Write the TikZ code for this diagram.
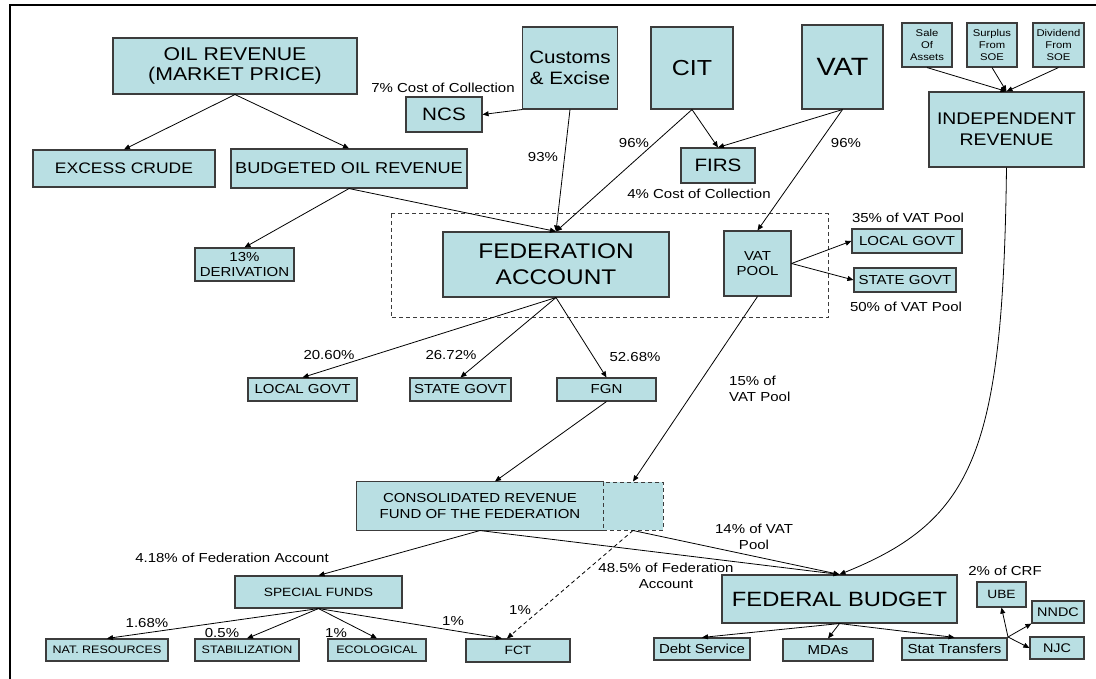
\documentclass[tikz,border=0pt]{standalone}
\usepackage{fontspec}
\setmainfont{Liberation Sans}[FakeStretch=1.15]
\usetikzlibrary{arrows.meta}
\definecolor{boxfill}{RGB}{185,223,227}
\definecolor{boxline}{RGB}{60,60,60}
\newcommand{\fsz}[2]{\fontsize{\fpeval{#1*1.087}}{\fpeval{#2*1.087}}\selectfont}
\begin{document}
\begin{tikzpicture}[x=1pt,y=-1pt,
  bx/.style={draw=boxline, fill=boxfill, line width=1.1pt, inner sep=0pt, align=center},
  arr/.style={-{Triangle[length=6pt,width=5pt]}, line width=0.8pt},
  dsh/.style={dash pattern=on 4pt off 3pt, line width=1pt, draw=boxline},
  lbl/.style={inner sep=0pt, font=\fsz{12}{15}, align=center}]
\useasboundingbox (0,0) rectangle (1096,679);
\fill[white] (0,0) rectangle (1096,679);
\draw[line width=2pt] (9.5,700) -- (9.5,5) -- (1110,5);

% federation zone
\draw[dsh] (391,214) rectangle (828,318);

% boxes
\node[bx, minimum width=244pt, minimum height=56pt, font=\fsz{17}{19}] (oil) at (235,66) {OIL REVENUE\\(MARKET PRICE)};
\node[bx, minimum width=182pt, minimum height=37pt, font=\fsz{14}{16}] (excess) at (124,168.5) {EXCESS CRUDE};
\node[bx, minimum width=236pt, minimum height=39pt, font=\fsz{14.5}{16}] (budget) at (349,168.5) {BUDGETED OIL REVENUE};
\node[bx, minimum width=76pt, minimum height=35pt, font=\fsz{16.5}{18}] (ncs) at (444,114.5) {NCS};
\node[bx, minimum width=95pt, minimum height=82pt, font=\fsz{16.5}{19.5}] (customs) at (570,68) {Customs\\\& Excise};
\node[bx, minimum width=82pt, minimum height=82pt, font=\fsz{20}{22}] (cit) at (692,68) {CIT};
\node[bx, minimum width=81pt, minimum height=84pt, font=\fsz{23}{25}] (vat) at (842.5,67) {VAT};
\node[bx, minimum width=50pt, minimum height=44pt, font=\fsz{9}{11}] (sale) at (927,45) {Sale\\Of\\Assets};
\node[bx, minimum width=50pt, minimum height=44pt, font=\fsz{9}{11}] (surplus) at (992,45) {Surplus\\From\\SOE};
\node[bx, minimum width=51pt, minimum height=44pt, font=\fsz{9}{11}] (dividend) at (1058.5,45) {Dividend\\From\\SOE};
\node[bx, minimum width=155pt, minimum height=75pt, font=\fsz{15.5}{19.5}] (indep) at (1006.5,129.5) {INDEPENDENT\\REVENUE};
\node[bx, minimum width=74pt, minimum height=35pt, font=\fsz{16.5}{18}] (firs) at (718,165.5) {FIRS};
\node[bx, minimum width=226pt, minimum height=65pt, font=\fsz{19.5}{24}] (fa) at (556,264.5) {FEDERATION\\ACCOUNT};
\node[bx, minimum width=67pt, minimum height=65pt, font=\fsz{12}{14}] (vatpool) at (757.5,263.5) {VAT\\POOL};
\node[bx, minimum width=110pt, minimum height=24pt, font=\fsz{12}{14}] (lgvat) at (907,241) {LOCAL GOVT};
\node[bx, minimum width=102pt, minimum height=24pt, font=\fsz{12}{14}] (sgvat) at (905,280) {STATE GOVT};
\node[bx, minimum width=99pt, minimum height=33pt, font=\fsz{12}{13}] (deriv) at (244.5,264.5) {13\%\\DERIVATION};
\node[bx, minimum width=109pt, minimum height=23pt, font=\fsz{12}{14}] (lg) at (302.5,389.5) {LOCAL GOVT};
\node[bx, minimum width=101pt, minimum height=23pt, font=\fsz{12}{14}] (sg) at (460.5,389.5) {STATE GOVT};
\node[bx, minimum width=99pt, minimum height=23pt, font=\fsz{12}{14}] (fgn) at (606.5,389.5) {FGN};
\node[bx, draw=none, minimum width=246pt, minimum height=48pt, font=\fsz{12}{14}] (crf) at (480,506) {CONSOLIDATED REVENUE\\FUND OF THE FEDERATION};
\draw[draw=boxline, line width=1.1pt] (crf.north east) -- (crf.north west) -- (crf.south west) -- (crf.south east);
\node[bx, dsh, minimum width=60pt, minimum height=48pt] (crfx) at (633,506) {};
\node[bx, minimum width=167pt, minimum height=32pt, font=\fsz{11}{13}] (sf) at (318.5,592) {SPECIAL FUNDS};
\node[bx, minimum width=122pt, minimum height=22pt, font=\fsz{10}{12}] (nat) at (107,650) {NAT. RESOURCES};
\node[bx, minimum width=104pt, minimum height=22pt, font=\fsz{10}{12}] (stab) at (247,650) {STABILIZATION};
\node[bx, minimum width=98pt, minimum height=22pt, font=\fsz{10}{12}] (eco) at (377,650) {ECOLOGICAL};
\node[bx, minimum width=104pt, minimum height=23pt, font=\fsz{11}{13}] (fct) at (518,650.5) {FCT};
\node[bx, minimum width=235pt, minimum height=48pt, font=\fsz{19}{21}] (fb) at (839.5,599) {FEDERAL BUDGET};
\node[bx, minimum width=96pt, minimum height=22pt, font=\fsz{12}{14}] (debt) at (702,649) {Debt Service};
\node[bx, minimum width=90pt, minimum height=22pt, font=\fsz{12}{14}] (mdas) at (828,650) {MDAs};
\node[bx, minimum width=105pt, minimum height=22pt, font=\fsz{12}{14}] (stat) at (954.5,649) {Stat Transfers};
\node[bx, minimum width=49pt, minimum height=25pt, font=\fsz{11}{13}] (ube) at (1001.5,594.5) {UBE};
\node[bx, minimum width=52pt, minimum height=22pt, font=\fsz{11.5}{13}] (nndc) at (1058,612) {NNDC};
\node[bx, minimum width=54pt, minimum height=22pt, font=\fsz{11.5}{13}] (njc) at (1057,648) {NJC};
\coordinate (hub) at (1008,637);

% connectors
\draw[arr] (oil.south) -- (excess.north);
\draw[arr] (oil.south) -- (budget.north);
\draw[arr] (customs.south west) -- (ncs.east);
\draw[arr] (customs.south) -- (fa.north);
\draw[arr] (budget.south) -- (deriv.north);
\draw[arr] (budget.south) -- (fa.north);
\draw[arr] (cit.south) -- (firs.north);
\draw[arr] (cit.south) -- (fa.north);
\draw[arr] (vat.south) -- (firs.north);
\draw[arr] (vat.south) -- (vatpool.north);
\draw[arr] (sale.south) -- (indep.north);
\draw[arr] (surplus.south) -- (indep.north);
\draw[arr] (dividend.south) -- (indep.north);
\draw[arr] (vatpool.east) -- (lgvat.west);
\draw[arr] (vatpool.east) -- (sgvat.west);
\draw[arr] (fa.south) -- (lg.north);
\draw[arr] (fa.south) -- (sg.north);
\draw[arr] (fa.south) -- (fgn.north);
\draw[arr] (fgn.south) -- ([xshift=15pt]crf.north);
\draw[arr] (vatpool.south) -- (crfx.north);
\draw[arr] (crf.south) -- (sf.north);
\draw[arr] (crf.south) -- (fb.north);
\draw[arr] (crfx.south) -- (fb.north);
\draw[arr, dash pattern=on 4pt off 3pt] (crfx.south) -- ([xshift=-11pt]fct.north);
\draw[arr] (indep.south) .. controls (1003,450) and (975,520) .. (fb.north);
\draw[arr] (sf.south) -- (nat.north);
\draw[arr] (sf.south) -- (stab.north);
\draw[arr] (sf.south) -- (eco.north);
\draw[arr] (sf.south) -- ([xshift=-16pt]fct.north);
\draw[arr] (fb.south) -- (debt.north);
\draw[arr] (fb.south) -- (mdas.north);
\draw[arr] (fb.south) -- (stat.north);
\draw[arr] (hub) -- (ube.south);
\draw[arr] (hub) -- (nndc.south west);
\draw[arr] (hub) -- (njc.west);

% labels
\node[lbl] (l7) at (443,88) {7\% Cost of Collection};
\node[lbl] (l93) at (543,157) {93\%};
\node[lbl] (l96a) at (634,143) {96\%};
\node[lbl] (l96b) at (846,143) {96\%};
\node[lbl] (l4) at (699,194) {4\% Cost of Collection};
\node[lbl] (l35) at (908,218) {35\% of VAT Pool};
\node[lbl] (l50) at (906,307) {50\% of VAT Pool};
\node[lbl] (l2060) at (329,355) {20.60\%};
\node[lbl] (l2672) at (451,355) {26.72\%};
\node[lbl] (l5268) at (635,357) {52.68\%};
\node[lbl, align=left, anchor=west] (l15) at (729,389) {15\% of\\VAT Pool};
\node[lbl] (l418) at (232,558) {4.18\% of Federation Account};
\node[lbl] (l168) at (147,623) {1.68\%};
\node[lbl] (l05) at (222,633) {0.5\%};
\node[lbl] (l1e) at (336,633) {1\%};
\node[lbl] (l1f) at (453,621) {1\%};
\node[lbl] (l1d) at (520,610) {1\%};
\node[lbl] (l14) at (754,537) {14\% of VAT\\Pool};
\node[lbl] (l485) at (666,576) {48.5\% of Federation\\Account};
\node[lbl] (l2crf) at (1005,571) {2\% of CRF};
\end{tikzpicture}
\end{document}
